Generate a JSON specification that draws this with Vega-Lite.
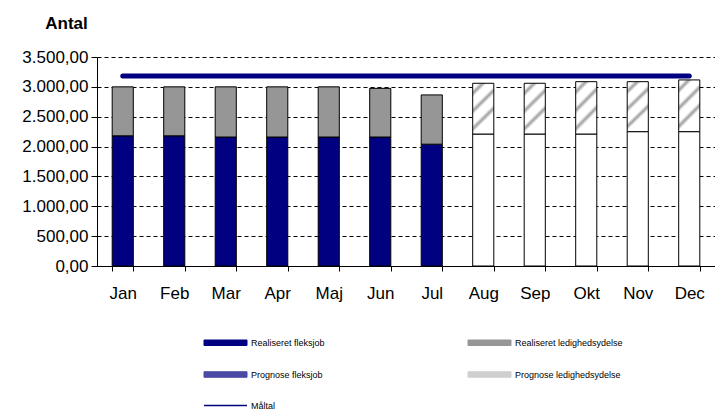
{
  "$schema": "https://vega.github.io/schema/vega-lite/v6.json",
  "width": 618,
  "height": 209,
  "autosize": "none",
  "padding": {"left": 97, "top": 57, "right": 0, "bottom": 147},
  "config": {
    "locale": {"number": {"decimal": ",", "thousands": ".", "grouping": [3], "currency": ["", " kr."]}},
    "view": {"stroke": null},
    "font": "Liberation Sans",
    "axis": {"labelColor": "black", "domainColor": "black", "tickColor": "black", "labelFont": "Liberation Sans", "titleColor": "black"}
  },
  "data": {
    "values": [
      {"maaned": "Jan", "serie": "Realiseret fleksjob", "value": 2180},
      {"maaned": "Feb", "serie": "Realiseret fleksjob", "value": 2180},
      {"maaned": "Mar", "serie": "Realiseret fleksjob", "value": 2160},
      {"maaned": "Apr", "serie": "Realiseret fleksjob", "value": 2160},
      {"maaned": "Maj", "serie": "Realiseret fleksjob", "value": 2160},
      {"maaned": "Jun", "serie": "Realiseret fleksjob", "value": 2160},
      {"maaned": "Jul", "serie": "Realiseret fleksjob", "value": 2040},
      {"maaned": "Jan", "serie": "Realiseret ledighedsydelse", "value": 820},
      {"maaned": "Feb", "serie": "Realiseret ledighedsydelse", "value": 820},
      {"maaned": "Mar", "serie": "Realiseret ledighedsydelse", "value": 840},
      {"maaned": "Apr", "serie": "Realiseret ledighedsydelse", "value": 840},
      {"maaned": "Maj", "serie": "Realiseret ledighedsydelse", "value": 840},
      {"maaned": "Jun", "serie": "Realiseret ledighedsydelse", "value": 815},
      {"maaned": "Jul", "serie": "Realiseret ledighedsydelse", "value": 825},
      {"maaned": "Aug", "serie": "Prognose fleksjob", "value": 2210},
      {"maaned": "Sep", "serie": "Prognose fleksjob", "value": 2210},
      {"maaned": "Okt", "serie": "Prognose fleksjob", "value": 2210},
      {"maaned": "Nov", "serie": "Prognose fleksjob", "value": 2250},
      {"maaned": "Dec", "serie": "Prognose fleksjob", "value": 2250},
      {"maaned": "Aug", "serie": "Prognose ledighedsydelse", "value": 850},
      {"maaned": "Sep", "serie": "Prognose ledighedsydelse", "value": 850},
      {"maaned": "Okt", "serie": "Prognose ledighedsydelse", "value": 877},
      {"maaned": "Nov", "serie": "Prognose ledighedsydelse", "value": 837},
      {"maaned": "Dec", "serie": "Prognose ledighedsydelse", "value": 866},
      {"maaned": "Jan", "serie": "Måltal", "value": 3180},
      {"maaned": "Feb", "serie": "Måltal", "value": 3180},
      {"maaned": "Mar", "serie": "Måltal", "value": 3180},
      {"maaned": "Apr", "serie": "Måltal", "value": 3180},
      {"maaned": "Maj", "serie": "Måltal", "value": 3180},
      {"maaned": "Jun", "serie": "Måltal", "value": 3180},
      {"maaned": "Jul", "serie": "Måltal", "value": 3180},
      {"maaned": "Aug", "serie": "Måltal", "value": 3180},
      {"maaned": "Sep", "serie": "Måltal", "value": 3180},
      {"maaned": "Okt", "serie": "Måltal", "value": 3180},
      {"maaned": "Nov", "serie": "Måltal", "value": 3180},
      {"maaned": "Dec", "serie": "Måltal", "value": 3180}
    ]
  },
  "encoding": {
    "x": {
      "field": "maaned", "type": "nominal",
      "scale": {"domain": ["Jan", "Feb", "Mar", "Apr", "Maj", "Jun", "Jul", "Aug", "Sep", "Okt", "Nov", "Dec"], "paddingInner": 0.59, "paddingOuter": 0.295},
      "axis": {"title": null, "labelAngle": 0, "labelFontSize": 17, "labelPadding": 14, "tickSize": 5, "tickBand": "extent", "domainWidth": 1, "grid": false}
    },
    "y": {
      "field": "value", "type": "quantitative",
      "scale": {"domain": [0, 3500], "nice": false},
      "axis": {
        "title": "Antal", "titleAngle": 0, "titleX": -31, "titleY": -34, "titleAlign": "center", "titleBaseline": "middle",
        "titleFontSize": 17, "titleFontWeight": "bold",
        "values": [0, 500, 1000, 1500, 2000, 2500, 3000, 3500],
        "format": ",.2f", "labelFontSize": 17, "labelPadding": 3, "tickSize": 6,
        "grid": true, "gridColor": "black", "gridOpacity": 1, "gridDash": [4, 3], "gridWidth": 1
      }
    }
  },
  "layer": [
    {
      "transform": [{"filter": "datum.serie !== 'Måltal'"}],
      "mark": {"type": "bar", "stroke": "black", "strokeWidth": 1},
      "encoding": {
        "order": {"field": "serie", "sort": "ascending"},
        "color": {
          "field": "serie", "type": "nominal",
          "condition": [
            {"test": "datum.serie === 'Prognose fleksjob'", "value": "#ffffff"},
            {
              "test": "datum.serie === 'Prognose ledighedsydelse'",
              "value": {"gradient": "linear", "x1": 0, "y1": 0, "x2": 0.41, "y2": 1, "stops": [
                {"offset": 0, "color": "#ffffff"}, {"offset": 0.1, "color": "#ffffff"}, {"offset": 0.17, "color": "#a0a0a0"}, {"offset": 0.24, "color": "#ffffff"},
                {"offset": 0.4, "color": "#ffffff"}, {"offset": 0.47, "color": "#a0a0a0"}, {"offset": 0.54, "color": "#ffffff"},
                {"offset": 0.7, "color": "#ffffff"}, {"offset": 0.77, "color": "#a0a0a0"}, {"offset": 0.84, "color": "#ffffff"}, {"offset": 1, "color": "#ffffff"}
              ]}
            }
          ],
          "scale": {
            "domain": ["Realiseret fleksjob", "Realiseret ledighedsydelse", "Prognose fleksjob", "Prognose ledighedsydelse", "Måltal"],
            "range": ["#000080", "#969696", "#4a4aa5", "#cfcfcf", "#000080"]
          },
          "legend": {
            "title": null, "orient": "none", "legendX": 124, "legendY": 281, "direction": "horizontal", "columns": 2, "columnPadding": 141, "rowPadding": 21,
            "labelFontSize": 9, "labelFont": "Liberation Sans", "labelColor": "black", "symbolSize": 100, "labelOffset": 21, "padding": 0,
            "encode": {
              "symbols": {
                "update": {
                  "shape": {"signal": "datum.value === 'Måltal' ? 'M-4.3,0H4.3' : 'M-4.3,-0.55H4.3V0.55H-4.3Z'"},
                  "strokeWidth": {"signal": "datum.value === 'Måltal' ? 1.5 : 1"},
                  "strokeCap": {"value": "butt"},
                  "opacity": {"value": 1}
                }
              }
            }
          }
        }
      }
    },
    {
      "transform": [{"filter": "datum.serie === 'Måltal'"}],
      "mark": {"type": "line", "strokeWidth": 5, "strokeCap": "round"},
      "encoding": {
        "color": {
          "field": "serie", "type": "nominal",
          "legend": {
            "title": null, "orient": "none", "legendX": 124, "legendY": 281, "direction": "horizontal", "columns": 2, "columnPadding": 141, "rowPadding": 21,
            "labelFontSize": 9, "labelFont": "Liberation Sans", "labelColor": "black", "symbolSize": 100, "labelOffset": 21, "padding": 0,
            "encode": {
              "symbols": {
                "update": {
                  "shape": {"signal": "datum.value === 'Måltal' ? 'M-4.3,0H4.3' : 'M-4.3,-0.55H4.3V0.55H-4.3Z'"},
                  "strokeWidth": {"signal": "datum.value === 'Måltal' ? 1.5 : 1"},
                  "strokeCap": {"value": "butt"},
                  "opacity": {"value": 1}
                }
              }
            }
          }
        }
      }
    }
  ]
}
